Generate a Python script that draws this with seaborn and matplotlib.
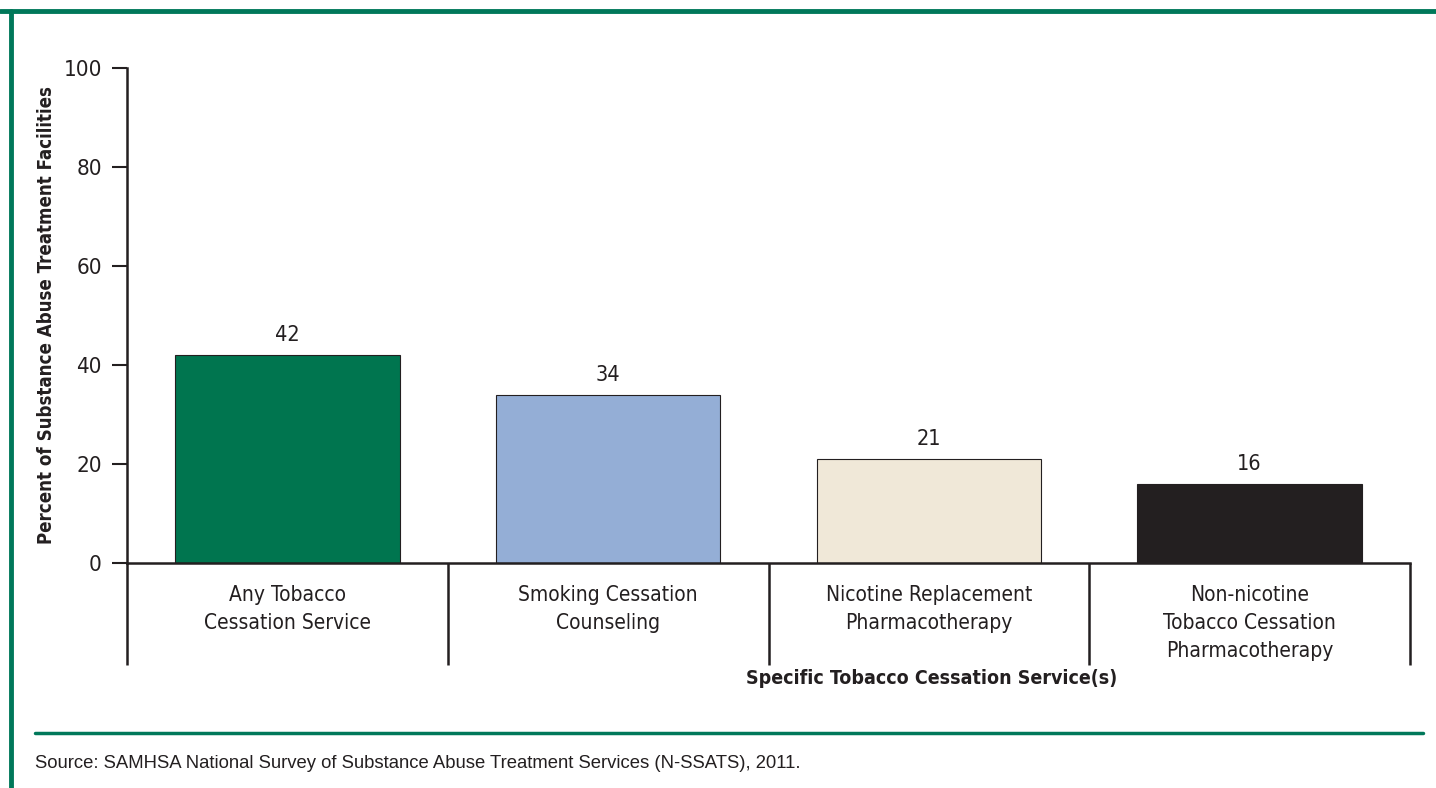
import matplotlib
matplotlib.use("Agg")
import matplotlib.pyplot as plt
import matplotlib.transforms as mtransforms
from matplotlib import font_manager
import seaborn as sns
import pandas as pd

categories = [
    "Any Tobacco\nCessation Service",
    "Smoking Cessation\nCounseling",
    "Nicotine Replacement\nPharmacotherapy",
    "Non-nicotine\nTobacco Cessation\nPharmacotherapy",
]
values = [42, 34, 21, 16]
bar_colors = ["#00754F", "#94AED6", "#F0E8D8", "#231F20"]
y_ticks = [0, 20, 40, 60, 80, 100]

GREEN = "#00785A"
INK = "#231F20"

sns.set_theme(style="white")

# Prefer a narrow sans face for the chart text
narrow_file = None
for f in font_manager.fontManager.ttflist:
    n = (f.name + " " + str(f.stretch)).lower()
    if ("narrow" in n or "condensed" in n) and f.weight in (400, "normal", "regular"):
        narrow_file = f
        break
if narrow_file is not None:
    main_family = narrow_file.name
    main_stretch = narrow_file.stretch
else:
    main_family = "Liberation Sans"
    main_stretch = "normal"
plt.rcParams["font.family"] = [main_family, "DejaVu Sans"]
plt.rcParams["font.stretch"] = main_stretch

df = pd.DataFrame({"service": categories, "pct": values})

fig = plt.figure(figsize=(14.36, 7.88), dpi=100)
ax = fig.add_axes([127 / 1436, 1 - 563 / 788, (1410 - 127) / 1436, (563 - 68) / 788])

sns.barplot(data=df, x="service", y="pct", hue="service", palette=bar_colors,
            saturation=1, legend=False, width=0.7, edgecolor=INK, linewidth=0.8, ax=ax)

for c in ax.containers:
    ax.bar_label(c, labels=[f"{v:g}" for v in c.datavalues], padding=7,
                 fontsize=15.5, color=INK)

ax.set_ylim(0, 100)
ax.set_xlim(-0.5, len(categories) - 0.5)
ax.set_yticks(y_ticks)
ax.tick_params(axis="y", which="major", direction="out", length=11, width=1.5,
               color=INK, labelsize=16, labelcolor=INK, pad=7, left=True)
ax.tick_params(axis="x", length=0, labelsize=15, labelcolor=INK, pad=16)
for lbl in ax.get_xticklabels():
    lbl.set_linespacing(1.5)
ax.set_xlabel("")
ax.set_ylabel("Percent of Substance Abuse Treatment Facilities", fontsize=13.4,
              fontweight="bold", color=INK, va="center")
ax.yaxis.set_label_coords((47 - 127) / (1410 - 127), 0.5)

for side in ["top", "right"]:
    ax.spines[side].set_visible(False)
for side in ["left", "bottom"]:
    ax.spines[side].set_color(INK)
    ax.spines[side].set_linewidth(1.8)

# Vertical separators between category labels below the axis
trans = mtransforms.blended_transform_factory(ax.transData, ax.transAxes)
drop = -(665 - 563) / (563 - 68)
for xb in [i - 0.5 for i in range(len(categories) + 1)]:
    ax.plot([xb, xb], [0, drop], transform=trans, color=INK, lw=1.8,
            clip_on=False, solid_capstyle="butt")

fig.text(932 / 1436, 1 - 678 / 788, "Specific Tobacco Cessation Service(s)",
         ha="center", va="center", fontsize=14, fontweight="bold", color=INK)

# Green frame and rule
fig.add_artist(plt.Line2D([0, 1], [1 - 11 / 788] * 2, color=GREEN, lw=3.5,
                          transform=fig.transFigure))
fig.add_artist(plt.Line2D([11 / 1436] * 2, [0, 1 - 11 / 788], color=GREEN, lw=3.5,
                          transform=fig.transFigure))
fig.add_artist(plt.Line2D([35 / 1436, 1423 / 1436], [1 - 733 / 788] * 2,
                          color=GREEN, lw=2.5, transform=fig.transFigure))

fig.text(35 / 1436, 1 - 764 / 788,
         "Source: SAMHSA National Survey of Substance Abuse Treatment Services (N-SSATS), 2011.",
         ha="left", va="center", fontsize=13.3, color=INK,
         family=["Liberation Sans", "DejaVu Sans"], stretch="normal")

fig.savefig("out.png", dpi=100)
